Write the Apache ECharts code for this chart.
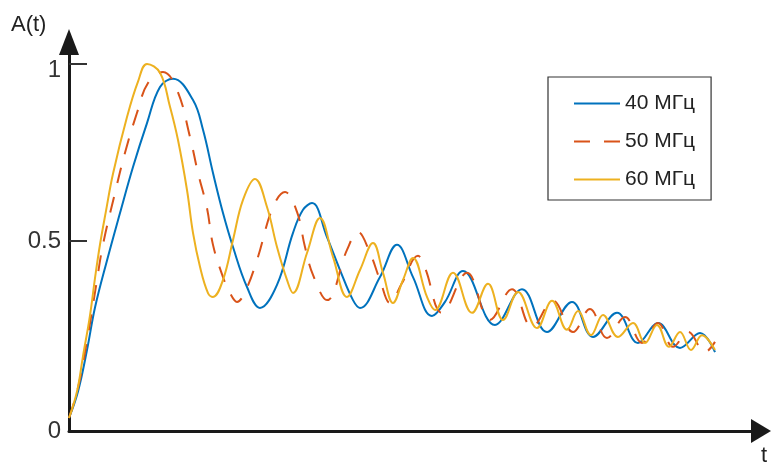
<!DOCTYPE html>
<html>
<head>
<meta charset="utf-8">
<script src="https://cdn.jsdelivr.net/npm/echarts@6/dist/echarts.min.js"></script>
<style>
  html, body { margin: 0; padding: 0; background: #fff; }
  #chart { width: 771px; height: 468px; }
</style>
</head>
<body>
<div id="chart"></div>
<script>
// values (t in arbitrary units)
const seriesNames = ["40 МГц", "50 МГц", "60 МГц"];
const seriesColors = ["#0072BD", "#D95319", "#EDB120"];

const t40 = [0, 0.09, 0.18, 0.26, 0.38, 0.51, 0.64, 0.78, 0.91, 1.04, 1.24, 1.34, 1.44, 1.54, 1.64, 1.78, 1.91,
  2.08, 2.24, 2.34, 2.43, 2.58, 2.71, 2.84, 2.91, 3.11, 3.28, 3.44, 3.63, 3.76, 3.94, 4.26, 4.53, 4.78,
  5.03, 5.24, 5.48, 5.69, 5.89, 6.11, 6.31, 6.46];
const a40 = [0, 0.075, 0.192, 0.312, 0.445, 0.579, 0.709, 0.833, 0.935, 0.958, 0.898, 0.814, 0.692, 0.579, 0.483, 0.370, 0.311,
  0.376, 0.523, 0.588, 0.607, 0.511, 0.418, 0.333, 0.311, 0.398, 0.489, 0.398, 0.288, 0.328, 0.415, 0.263, 0.364, 0.243,
  0.328, 0.229, 0.297, 0.212, 0.268, 0.198, 0.240, 0.186];

const t50 = [0, 0.09, 0.19, 0.28, 0.34, 0.46, 0.56, 0.68, 0.79, 0.94, 1.08, 1.21, 1.29, 1.38, 1.44, 1.54, 1.61, 1.68,
  1.76, 1.88, 2.04, 2.16, 2.28, 2.36, 2.44, 2.58, 2.78, 2.89, 3.01, 3.11, 3.21, 3.33, 3.49, 3.56, 3.73,
  3.98, 4.21, 4.43, 4.63, 4.84, 5.04, 5.21, 5.38, 5.56, 5.73, 5.89, 6.04, 6.19, 6.36, 6.46];
const a50 = [0, 0.085, 0.234, 0.39, 0.49, 0.636, 0.749, 0.862, 0.946, 0.977, 0.927, 0.794, 0.692, 0.593, 0.489, 0.398, 0.353, 0.328,
  0.356, 0.446, 0.596, 0.638, 0.582, 0.483, 0.404, 0.333, 0.475, 0.525, 0.466, 0.390, 0.325, 0.381, 0.458, 0.424, 0.297,
  0.410, 0.277, 0.364, 0.257, 0.331, 0.243, 0.308, 0.226, 0.285, 0.212, 0.268, 0.201, 0.243, 0.186, 0.215];

const t60 = [0, 0.08, 0.14, 0.21, 0.26, 0.31, 0.37, 0.44, 0.58, 0.69, 0.78, 0.91, 1.01, 1.09, 1.18, 1.24, 1.31, 1.39, 1.44,
  1.54, 1.64, 1.74, 1.86, 1.98, 2.08, 2.18, 2.24, 2.38, 2.51, 2.64, 2.78, 2.91, 3.04, 3.14, 3.24, 3.34, 3.44,
  3.58, 3.66, 3.84, 4.03, 4.19, 4.34, 4.49, 4.68, 4.83, 4.98, 5.09, 5.22, 5.34, 5.49, 5.64, 5.76, 5.88, 6.00,
  6.11, 6.22, 6.33, 6.46];
const a60 = [0, 0.075, 0.175, 0.29, 0.395, 0.49, 0.585, 0.69, 0.850, 0.95, 1.0, 0.975, 0.879, 0.785, 0.644, 0.523, 0.427, 0.353, 0.342,
  0.390, 0.503, 0.616, 0.675, 0.596, 0.483, 0.390, 0.353, 0.466, 0.565, 0.455, 0.342, 0.418, 0.494, 0.410, 0.325, 0.390, 0.452,
  0.342, 0.305, 0.410, 0.297, 0.379, 0.277, 0.356, 0.254, 0.331, 0.249, 0.302, 0.234, 0.291, 0.229, 0.268, 0.212, 0.263, 0.201,
  0.243, 0.192, 0.234, 0.192];

const yTickValues = [0.5, 1];
const yTickLabels = ["0", "0.5", "1"];
const yLabelValues = [-0.0367, 0.5, 0.983];

const xMax = 6.92;
const yMin = -0.0367;
const yMax = 1.062;

const seriesT = [t40, t50, t60];
const seriesA = [a40, a50, a60];

const font = "'Liberation Sans', Arial, sans-serif";
const myChart = echarts.init(document.getElementById("chart"));

const series = seriesNames.map((name, i) => ({
  name,
  type: "line",
  symbol: "none",
  smooth: 0.4,
  data: seriesT[i].map((t, k) => [t, seriesA[i][k]]),
  lineStyle: {
    width: 2,
    color: seriesColors[i],
    type: i === 1 ? [16, 14] : "solid",
  },
  itemStyle: { color: seriesColors[i] },
}));

myChart.setOption({
  animation: false,
  backgroundColor: "#fff",
  grid: {
    left: 69,
    right: 10,
    top: 42,
    bottom: 37,
    outerBoundsMode: "none",
  },
  legend: {
    orient: "vertical",
    left: 548,
    top: 77,
    data: seriesNames,
    selectedMode: false,
    itemWidth: 46,
    itemHeight: 14,
    itemGap: 17,
    padding: [16, 16, 10, 25],
    borderColor: "#333",
    borderWidth: 1.2,
    itemStyle: { opacity: 0 },
    textStyle: { fontFamily: font, fontSize: 21, color: "#222" },
  },
  xAxis: {
    type: "value",
    min: 0,
    max: xMax,
    axisLine: {
      onZero: false,
      symbol: ["none", "triangle"],
      symbolSize: [24, 20],
      lineStyle: { color: "#1a1a1a", width: 3 },
    },
    axisTick: { show: false },
    axisLabel: { show: false },
    splitLine: { show: false },
  },
  yAxis: {
    type: "value",
    min: yMin,
    max: yMax,
    axisLine: {
      onZero: false,
      symbol: ["none", "triangle"],
      symbolSize: [20, 26],
      lineStyle: { color: "#1a1a1a", width: 3 },
    },
    axisTick: {
      show: true,
      inside: true,
      length: 18,
      customValues: yTickValues,
      lineStyle: { color: "#333", width: 2 },
    },
    axisLabel: {
      customValues: yLabelValues,
      formatter: (v) => yTickLabels[yLabelValues.indexOf(v)],
      margin: 8,
      fontFamily: font,
      fontSize: 24,
      color: "#333",
    },
    splitLine: { show: false },
  },
  graphic: [
    {
      type: "text",
      left: 11,
      top: 14,
      style: { text: "A(t)", font: "22px " + font, fill: "#222" },
    },
    {
      type: "text",
      left: 761,
      top: 445,
      style: { text: "t", font: "22px " + font, fill: "#222" },
    },
  ],
  series,
});
</script>
</body>
</html>
